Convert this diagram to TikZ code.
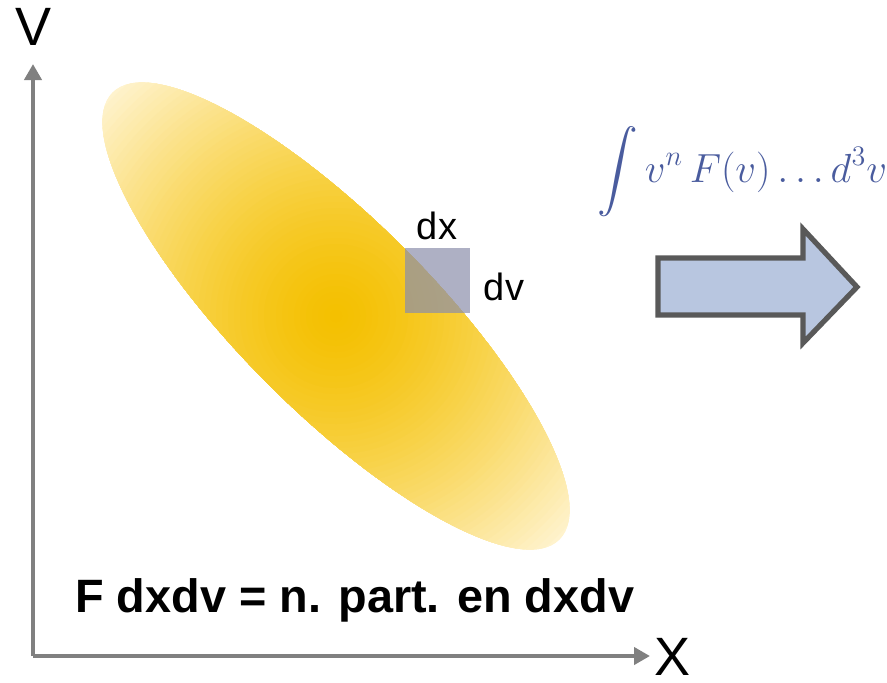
\documentclass[tikz,border=0pt]{standalone}
\usepackage{exscale}
\usepackage{fontspec}
\setmainfont{Liberation Sans}
\usetikzlibrary{arrows.meta}
\definecolor{axisgray}{HTML}{808080}
\definecolor{yc0}{HTML}{F4C000}
\definecolor{yc4}{HTML}{FFF4D2}
\definecolor{sqfill}{HTML}{8B8EAB}
\definecolor{arrfill}{HTML}{B8C6E0}
\definecolor{arrline}{HTML}{595959}
\definecolor{formcol}{HTML}{4A5C9E}
\tikzset{
  axisline/.style={draw=axisgray, line width=2.2pt, -{Triangle[length=8pt,width=8.5pt]}},
  axislabel/.style={font=\fontsize{27}{30}\selectfont, inner sep=0pt},
  smalllabel/.style={font=\fontsize{19}{22}\selectfont, inner sep=0pt},
  biglabel/.style={font=\bfseries\fontsize{23.4}{27}\selectfont, inner sep=0pt},
}
\begin{document}
\begin{tikzpicture}[x=0.5pt,y=-0.5pt]
\useasboundingbox (0,0) rectangle (887,682);
% axes
\coordinate (O) at (33,656);
\coordinate (Ytip) at (33,64);
\coordinate (Xtip) at (650,656);
\draw[axisline] (O) -- (Ytip);
\draw[axisline] (O) -- (Xtip);
\node[axislabel] (V) at (34,27) {V};
\node[axislabel] (X) at (672,657) {X};
% ellipse with circular radial gradient
\coordinate (E) at (336,316);
\begin{scope}
  \clip (E) ellipse [x radius=158pt, y radius=48pt, rotate=-45];
  \foreach \r in {324,318,...,6} {
    \pgfmathsetmacro\t{100*(\r/324)^1.4}
    \fill[yc4!\t!yc0] (E) circle [radius=\r*0.5pt];
  }
\end{scope}
% small square
\fill[sqfill, fill opacity=0.7] (405,248) rectangle (470,313);
\node[smalllabel] (dx) at (437,226) {dx};
\node[smalllabel] (dv) at (504,287) {dv};
% formula
\node[anchor=base west, inner sep=0pt, text=formcol, font=\huge, scale=0.98, transform shape] (formula) at (597,182) {$\displaystyle\int v^n\,F(v)\ldots d^3v$};
% block arrow
\draw[draw=arrline, fill=arrfill, line width=2.6pt, line join=miter]
  (658,258) -- (803,258) -- (803,229) -- (857,287) -- (803,343) -- (803,315) -- (658,315) -- cycle;
% bottom text
\node[biglabel, anchor=base west] (eq) at (75,612) {F dxdv = n. part. en dxdv};
\end{tikzpicture}
\end{document}
